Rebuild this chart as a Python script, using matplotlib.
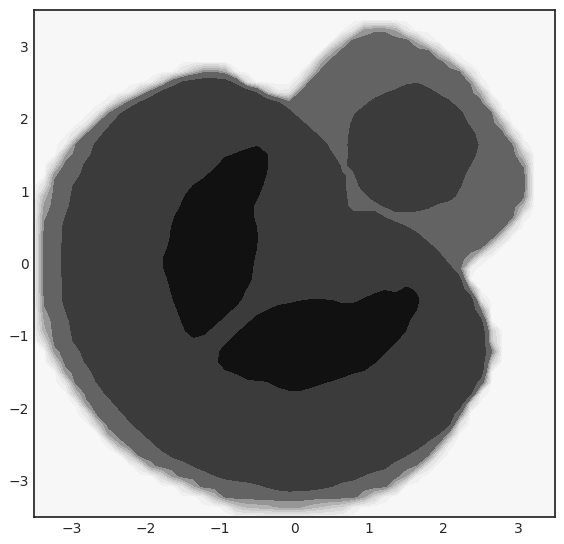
import numpy as np
import matplotlib.pyplot as plt
from matplotlib.path import Path

# outline of the whole blob (medium grey edge)
outer_x = [0.93, 1.33, 1.83, 2.33, 2.68, 3.04, 3.15, 3.15, 2.95, 2.68, 2.33, 2.26, 2.37, 2.50,
           2.68, 2.54, 2.71, 2.57, 2.46, 2.33, 2.14, 1.83, 1.29, 0.71, -0.01, -0.77, -1.40, -1.98,
           -2.48, -2.88, -3.19, -3.38, -3.42, -3.42, -3.39, -3.24, -2.97, -2.48, -2.07, -1.63,
           -1.22, -0.96, -0.63, -0.23, -0.05, 0.17, 0.39, 0.71]
outer_y = [3.26, 3.26, 2.99, 2.63, 2.12, 1.57, 1.29, 0.92, 0.56, 0.28, 0.01, -0.13, -0.50, -0.85,
           -0.92, -1.06, -1.19, -1.36, -1.61, -1.88, -2.30, -2.71, -3.12, -3.33, -3.40, -3.36, -3.08,
           -2.81, -2.43, -1.88, -1.37, -0.96, -0.50, 0.50, 0.88, 1.29, 1.70, 2.16, 2.37, 2.56,
           2.70, 2.70, 2.43, 2.30, 2.30, 2.57, 2.85, 3.12]

# big dark disc
disc_x = [-3.12, -3.11, -2.97, -2.65, -2.34, -1.94, -1.57, -1.22, -0.86, -0.50, -0.19, 0.08, 0.44,
          0.48, 0.62, 0.66, 0.71, 0.79, 1.06, 1.20, 1.60, 1.92, 2.10, 2.23, 2.44, 2.57, 2.61, 2.61,
          2.50, 2.23, 2.06, 1.70, 1.16, 0.48, -0.05, -1.04, -1.76, -2.21, -2.65, -2.97, -3.11]
disc_y = [0.05, 0.50, 1.06, 1.70, 2.08, 2.30, 2.50, 2.56, 2.53, 2.39, 2.21, 1.98, 1.66,
          1.52, 1.39, 1.15, 0.78, 0.71, 0.74, 0.64, 0.46, 0.19, -0.05, -0.19, -0.50, -0.85, -1.12,
          -1.36, -1.68, -2.02, -2.26, -2.53, -2.85, -3.08, -3.15, -2.94, -2.61, -2.20, -1.65,
          -1.06, -0.50]

# small dark circle, upper right
circle_x = [1.52, 1.66, 1.92, 2.19, 2.37, 2.50, 2.37, 2.23, 2.19, 1.97, 1.70, 1.47, 1.29, 1.06,
            0.93, 0.79, 0.71, 0.79, 0.98, 1.20, 1.39]
circle_y = [2.50, 2.50, 2.35, 2.16, 1.88, 1.61, 1.39, 1.11, 0.92, 0.83, 0.74, 0.71, 0.74, 0.88,
            0.97, 1.25, 1.57, 2.08, 2.21, 2.35, 2.39]

# darkest blob, left
left_x = [-0.50, -0.36, -0.35, -0.36, -0.57, -0.50, -0.50, -0.59, -0.73, -1.20, -1.36, -1.49,
          -1.51, -1.64, -1.67, -1.78, -1.78, -1.67, -1.64, -1.51, -1.49, -1.36, -1.13, -0.93,
          -0.77, -0.59]
left_y = [1.63, 1.63, 1.50, 1.25, 0.74, 0.50, 0.23, -0.23, -0.53, -0.96, -1.06, -0.92,
          -0.78, -0.50, -0.27, -0.05, 0.08, 0.26, 0.64, 0.78, 0.94, 1.08, 1.25, 1.50,
          1.51, 1.61]

# darkest blob, bottom
bottom_x = [-1.06, -0.93, -0.77, -0.63, -0.35, -0.08, 0.08, 0.35, 0.51, 0.78, 0.93, 1.52, 1.52,
            1.66, 1.66, 1.52, 1.36, 1.22, 0.78, 0.65, 0.51, 0.12, -0.19, -0.50, -0.73, -1.00]
bottom_y = [-1.33, -1.50, -1.50, -1.63, -1.63, -1.77, -1.77, -1.65, -1.63, -1.50, -1.50, -0.92,
            -0.78, -0.64, -0.35, -0.32, -0.41, -0.35, -0.56, -0.56, -0.50, -0.50, -0.57, -0.71,
            -0.92, -1.19]

#----------------- GRID -----------------#

n = 50      # contour grid
sub = 8     # supersampling per cell
xs = np.linspace(-3.5, 3.5, n)
h = xs[1] - xs[0]
fine = (xs[:, None] + (np.arange(sub) + 0.5) / sub * h - h / 2).ravel()
fx, fy = np.meshgrid(fine, fine)
pts = np.column_stack([fx.ravel(), fy.ravel()])


def inside(px, py):
    return Path(np.column_stack([px, py])).contains_points(pts).reshape(fx.shape)


zf = np.zeros_like(fx)
zf[inside(outer_x, outer_y)] = 1
zf[inside(disc_x, disc_y) | inside(circle_x, circle_y)] = 2
zf[inside(left_x, left_y) | inside(bottom_x, bottom_y)] = 3
z = zf.reshape(n, sub, n, sub).mean(axis=(1, 3))
xx, yy = np.meshgrid(xs, xs)

#----------------- PLOT -----------------#

plt.style.use('seaborn-v0_8-white')
plt.rcParams['font.family'] = ['DejaVu Sans']
fig = plt.figure(figsize=(5.64, 5.44), dpi=100)
ax = fig.add_axes([0.0603, 0.0496, 0.9238, 0.932])

levels = [-0.5, 0.03, 0.12, 0.25, 0.4, 0.55, 0.72, 0.9, 1.5, 2.5, 3.5]
colors = ['#f7f7f7', '#f0f0f0', '#e6e6e6', '#d9d9d9', '#c9c9c9', '#b3b3b3', '#969696',
          '#636363', '#3b3b3b', '#111111']
ax.contourf(xx, yy, z, levels=levels, colors=colors)

ax.set_xlim(-3.5, 3.5)
ax.set_ylim(-3.5, 3.5)
ax.set_xticks(range(-3, 4))
ax.set_yticks(range(-3, 4))
ax.tick_params(labelsize=10, colors='#262626')
for s in ax.spines.values():
    s.set_edgecolor('#262626')
    s.set_linewidth(1.25)

fig.savefig('out.png', dpi=100)
